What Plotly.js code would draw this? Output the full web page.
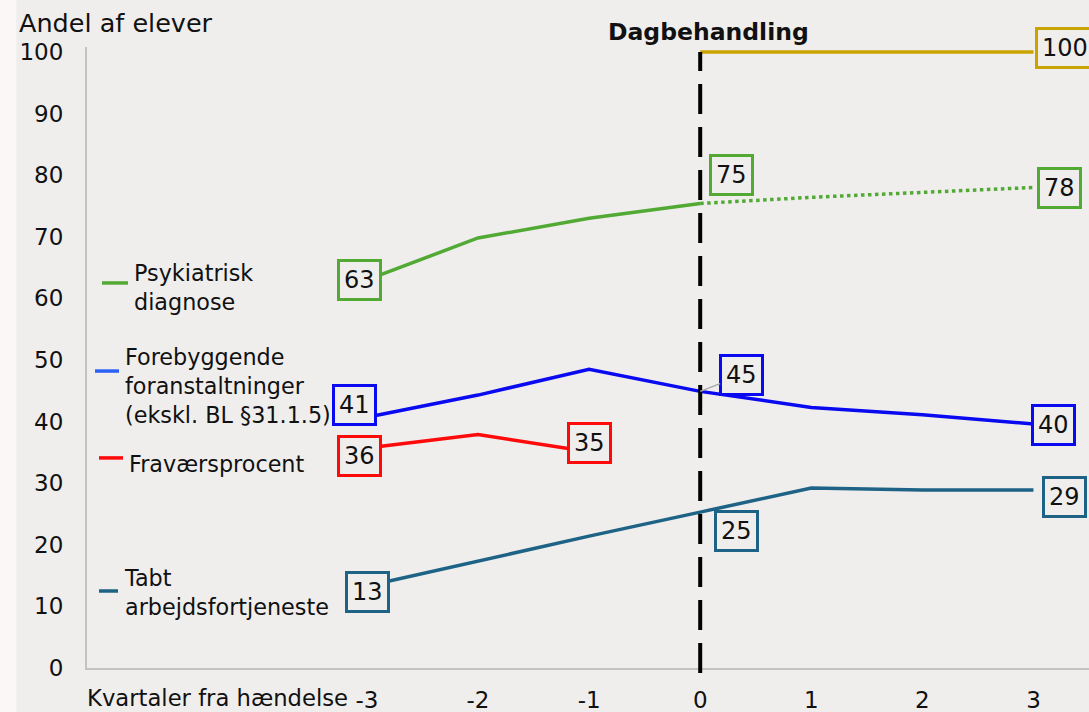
<!DOCTYPE html>
<html>
<head>
<meta charset="utf-8">
<script src="https://cdn.plot.ly/plotly-3.0.1.min.js"></script>
<style>html,body{margin:0;padding:0;background:#efeeed;}#chart{width:1089px;height:712px;}</style>
</head>
<body>
<div id="chart"></div>
<script>
// ---- data ----
const quarters = [-3, -2, -1, 0, 1, 2, 3];
const tickLabels = ["-3", "-2", "-1", "0", "1", "2", "3"];
const preQuarters = [-3, -2, -1, 0];
const postQuarters = [0, 1, 2, 3];
const absQuarters = [-3, -2, -1];

const psykPre = [63.0, 69.8, 73.0, 75.4];
const psykPost = [75.4, 76.4, 77.2, 78.0];
const dagbehandling = [100, 100, 100, 100];
const forebyg = [40.7, 44.3, 48.5, 44.9, 42.3, 41.1, 39.6];
const fravaer = [35.7, 37.9, 35.1];
const tabt = [13.3, 17.4, 21.4, 25.3, 29.2, 28.9, 28.9];

const names = {
  psyk: "Psykiatrisk<br>diagnose",
  forebyg: "Forebyggende<br>foranstaltninger<br>(ekskl. BL §31.1.5)",
  fravaer: "Fraværsprocent",
  tabt: "Tabt<br>arbejdsfortjeneste"
};

// ---- styles ----
const C = {
  green: "#52aa35",
  yellow: "#c9a400",
  blue: "#0a0af0",
  blueLeg: "#2a62f5",
  red: "#ff0a0a",
  teal: "#1e6385",
  bg: "#efeeed",
  axis: "#c4c3c2"
};
const FONT = "'DejaVu Sans', sans-serif";
const LW = 3.5;

const traces = [
  {x: preQuarters, y: psykPre, mode: "lines", line: {color: C.green, width: LW}},
  {x: postQuarters, y: psykPost, mode: "lines", line: {color: C.green, width: LW, dash: "dot"}},
  {x: postQuarters, y: dagbehandling, mode: "lines", line: {color: C.yellow, width: LW}},
  {x: quarters, y: forebyg, mode: "lines", line: {color: C.blue, width: LW}},
  {x: absQuarters, y: fravaer, mode: "lines", line: {color: C.red, width: LW}},
  {x: quarters, y: tabt, mode: "lines", line: {color: C.teal, width: LW}}
];
traces.forEach(t => { t.hoverinfo = "skip"; t.showlegend = false; });

const BOXFONT = {family: FONT, size: 24, color: "#111"};
function box(x, y, color, xs, ys) {
  return {
    x: x, y: y, xref: "x", yref: "y", text: String(Math.round(y)),
    showarrow: false, xshift: xs, yshift: ys, font: BOXFONT,
    bgcolor: C.bg, bordercolor: color, borderwidth: 3, borderpad: 4
  };
}

const LEGFONT = {family: FONT, size: 22.3, color: "#111"};
function legText(x, y, text) {
  return {x: x, y: y, xref: "x", yref: "y", text: text, showarrow: false,
          xanchor: "left", yanchor: "middle", align: "left", font: LEGFONT};
}

const annotations = [
  box(-3, psykPre[0], C.green, -7, 0),
  box(0, psykPre[3], C.green, 31, 28),
  box(3, psykPost[3], C.green, 26, -1),
  box(3, dagbehandling[3], C.yellow, 32, 4),
  box(-3, forebyg[0], C.blue, -12, 12),
  {
    x: 0, y: forebyg[3], xref: "x", yref: "y", text: String(Math.round(forebyg[3])),
    showarrow: true, ax: 41, ay: -16, arrowcolor: "#a8a8a8", arrowwidth: 1.5, arrowhead: 0,
    font: BOXFONT, bgcolor: C.bg, bordercolor: C.blue, borderwidth: 3, borderpad: 4
  },
  box(3, forebyg[6], C.blue, 20, -1),
  box(-3, fravaer[0], C.red, -7, -8),
  box(-1, fravaer[2], C.red, 0, 9),
  box(-3, tabt[0], C.teal, 1, -6),
  box(0, tabt[3], C.teal, 36, -19),
  box(3, tabt[6], C.teal, 31, -7),
  // legend labels
  legText(-5.115, 61.8, names.psyk),
  legText(-5.196, 45.8, names.forebyg),
  legText(-5.160, 33.1, names.fravaer),
  legText(-5.205, 12.3, names.tabt),
  // titles
  {x: 0.072, y: 100, xref: "x", yref: "y", text: "<b>Dagbehandling</b>", showarrow: false, yanchor: "bottom", yshift: 4,
   font: {family: FONT, size: 23.5, color: "#111"}},
  {x: -0.0695, y: 1.0, xref: "paper", yref: "paper", text: "Andel af elever", showarrow: false, xanchor: "left", yanchor: "bottom", yshift: 7,
   font: {family: FONT, size: 25.5, color: "#111"}},
  {x: -0.002, y: 0, xref: "paper", yref: "paper", text: "Kvartaler fra hændelse", showarrow: false, xanchor: "left", yanchor: "top", yshift: -15,
   font: {family: FONT, size: 22.7, color: "#111"}}
];

function legLine(x0, x1, y, color) {
  return {type: "line", xref: "x", yref: "y", x0: x0, x1: x1, y0: y, y1: y, line: {color: color, width: 3.5}};
}

const shapes = [
  {type: "rect", xref: "paper", yref: "paper", x0: -0.0868, x1: -0.0705, y0: -0.08, y1: 1.08, fillcolor: "#faf7f6", line: {width: 0}, layer: "below"},
  {type: "line", xref: "x", yref: "paper", x0: 0, x1: 0, y0: -0.008, y1: 0.992, line: {color: "#000", width: 4, dash: "30px,13px"}},
  legLine(-5.385, -5.151, 62.5, C.green),
  legLine(-5.448, -5.232, 48.2, C.blueLeg),
  legLine(-5.412, -5.196, 34.1, C.red),
  legLine(-5.412, -5.241, 12.5, C.teal)
];

const layout = {
  width: 1089, height: 712,
  margin: {l: 87, r: 0, t: 47, b: 44, pad: 0},
  paper_bgcolor: C.bg, plot_bgcolor: C.bg,
  font: {family: FONT, size: 22, color: "#111"},
  showlegend: false,
  xaxis: {
    range: [-5.52, 3.50], tickvals: quarters, ticktext: tickLabels,
    showgrid: false, zeroline: false, showline: true, linecolor: C.axis, linewidth: 2,
    ticks: "outside", ticklen: 10, tickcolor: "rgba(0,0,0,0)",
    tickfont: {family: FONT, size: 23, color: "#111"}, fixedrange: true
  },
  yaxis: {
    range: [0, 100.8], tickvals: [0, 10, 20, 30, 40, 50, 60, 70, 80, 90, 100],
    showgrid: false, zeroline: false, showline: true, linecolor: C.axis, linewidth: 2,
    ticks: "outside", ticklen: 17, tickcolor: "rgba(0,0,0,0)",
    tickfont: {family: FONT, size: 23, color: "#111"}, fixedrange: true
  },
  annotations: annotations,
  shapes: shapes
};

Plotly.newPlot("chart", traces, layout, {displayModeBar: false, staticPlot: true});
</script>
</body>
</html>
